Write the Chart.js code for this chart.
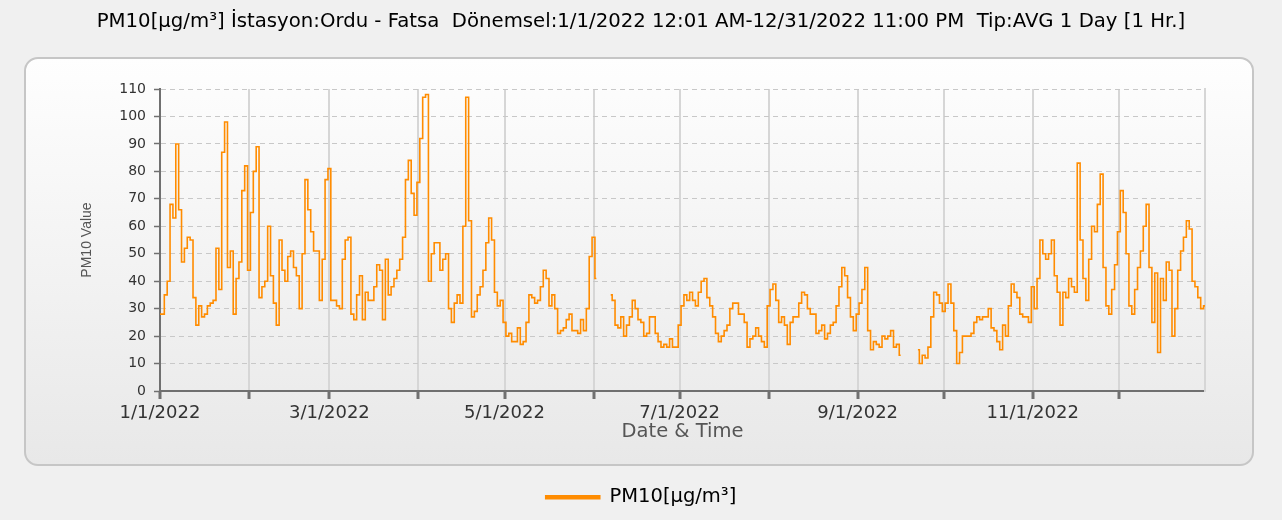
<!DOCTYPE html>
<html>
<head>
<meta charset="utf-8">
<script src="https://cdn.jsdelivr.net/npm/chart.js@4.4.1/dist/chart.umd.min.js"></script>
<style>
html,body{margin:0;padding:0;background:#f0f0f0;}
#wrap{position:relative;width:1282px;height:520px;}
#panel{position:absolute;left:24px;top:57px;width:1226px;height:405px;border:2px solid #c6c6c6;border-radius:14px;background:linear-gradient(#fefefe,#e8e8e8);}
canvas{position:absolute;left:0;top:0;}
</style>
</head>
<body>
<div id="wrap"><div id="panel"></div><canvas id="c" width="1282" height="520"></canvas></div>
<script>
// daily PM10 averages, Ordu - Fatsa 2022 (null = no data)
const jan = [28,28,35,40,68,63,90,66,47,52,56,55,34,24,31,27,28,31,32,33,52,37,87,98,45,51,28,41,47,73,82];
const feb = [44,65,80,89,34,38,40,60,42,32,24,55,44,40,49,51,45,42,30,50,77,66,58,51,51,33,48,77];
const mar = [81,33,33,31,30,48,55,56,28,26,35,42,26,36,33,33,38,46,44,26,48,35,38,41,44,48,56,77,84,72,64];
const apr = [76,92,107,108,40,50,54,54,44,48,50,30,25,32,35,32,60,107,62,27,29,35,38,44,54,63,55,36,31,33];
const may = [25,20,21,18,18,23,17,18,25,35,34,32,33,38,44,41,31,35,30,21,22,23,26,28,22,22,21,26,22,30,49];
const jun = [56,41,null,null,null,null,35,33,24,23,27,20,24,27,33,30,26,25,20,21,27,27,21,18,16,17,16,19,16,16];
const jul = [24,31,35,33,36,33,31,36,40,41,34,31,27,21,18,20,22,24,30,32,32,28,28,25,16,19,20,23,20,18,16];
const aug = [31,37,39,33,25,27,24,17,25,27,27,32,36,35,30,28,28,21,22,24,19,21,24,25,31,38,45,42,34,27,22];
const sep = [28,32,37,45,22,15,18,17,16,20,19,20,22,16,17,13,null,null,null,null,null,15,10,13,12,16,27,36,35,32];
const oct = [29,32,39,32,22,10,14,20,20,20,21,25,27,26,27,27,30,23,22,18,15,24,20,31,39,36,34,28,27,27,25];
const nov = [38,30,41,55,50,48,50,55,42,36,24,36,34,41,38,36,83,55,41,33,48,60,58,68,79,45,31,28,37,46];
const dec = [58,73,65,50,31,28,37,45,51,60,68,45,25,43,14,41,33,47,44,20,30,44,51,56,62,59,40,38,34,30,31];

const pm10 = [].concat(jan, feb, mar, apr, may, jun, jul, aug, sep, oct, nov, dec);
const monthStarts = [0,31,59,90,120,151,181,212,243,273,304,334];
const monthLabels = ['1/1/2022','','3/1/2022','','5/1/2022','','7/1/2022','','9/1/2022','','11/1/2022',''];

const titleText = 'PM10[µg/m³] İstasyon:Ordu - Fatsa  Dönemsel:1/1/2022 12:01 AM-12/31/2022 11:00 PM  Tip:AVG 1 Day [1 Hr.]';
const FONT = 'DejaVu Sans';

new Chart(document.getElementById('c'), {
  type: 'line',
  data: {
    datasets: [{
      label: 'PM10[µg/m³]',
      data: pm10.map((v, i) => ({x: i, y: v})),
      borderColor: '#ff8c00',
      backgroundColor: '#ff8c00',
      borderWidth: 1.6,
      pointRadius: 0,
      stepped: 'middle',
      spanGaps: false,
      fill: false
    }]
  },
  options: {
    responsive: false,
    animation: false,
    layout: {padding: {left: 0, right: 0, top: 0, bottom: 3}},
    plugins: {
      title: {
        display: true, text: titleText, color: '#000',
        font: {family: FONT, size: 19.7, weight: 'normal'},
        padding: {top: 10.2, bottom: 55.2}
      },
      legend: {
        position: 'bottom',
        labels: {boxWidth: 54, boxHeight: 3, padding: 10, color: '#000', font: {family: FONT, size: 19.5}}
      },
      tooltip: {enabled: false}
    },
    scales: {
      x: {
        type: 'linear', min: 0, max: 364,
        afterBuildTicks: s => { s.ticks = monthStarts.map(v => ({value: v})); },
        afterFit: s => { s.height = 86.5; },
        ticks: {autoSkip: false, maxRotation: 0, color: '#333', padding: 3.2, font: {family: FONT, size: 18},
          callback: (v, i) => monthLabels[i]},
        grid: {color: '#d6d6d6', lineWidth: 2, tickLength: 8, tickColor: '#707070', tickWidth: 3, tickBorderDash: []},
        border: {color: '#707070', width: 2},
        title: {display: true, text: 'Date & Time', color: '#555', font: {family: FONT, size: 19.5}, padding: {top: 2, bottom: 33.8}}
      },
      y: {
        min: 0, max: 110,
        afterFit: s => { s.width = 160; },
        ticks: {stepSize: 5, color: '#333', padding: 8, font: {family: FONT, size: 14},
          callback: v => (v % 10 === 0 ? v : '')},
        grid: {
          color: c => (c.tick && c.tick.value % 10 === 0 ? '#c8c8c8' : 'rgba(0,0,0,0)'),
          lineWidth: 1, tickLength: 6, tickColor: '#707070', tickWidth: 1.5, tickBorderDash: []
        },
        border: {color: '#707070', width: 2, dash: [5, 4]},
        title: {display: true, text: 'PM10 Value', color: '#555', font: {family: 'Liberation Sans', size: 14}, padding: {top: 79, bottom: 0}}
      },
      yr: {
        position: 'right', min: 0, max: 110,
        afterFit: s => { s.width = 77; },
        ticks: {display: false},
        grid: {display: false, drawTicks: false},
        border: {display: true, color: '#d6d6d6', width: 2}
      }
    }
  }
});
</script>
</body>
</html>
